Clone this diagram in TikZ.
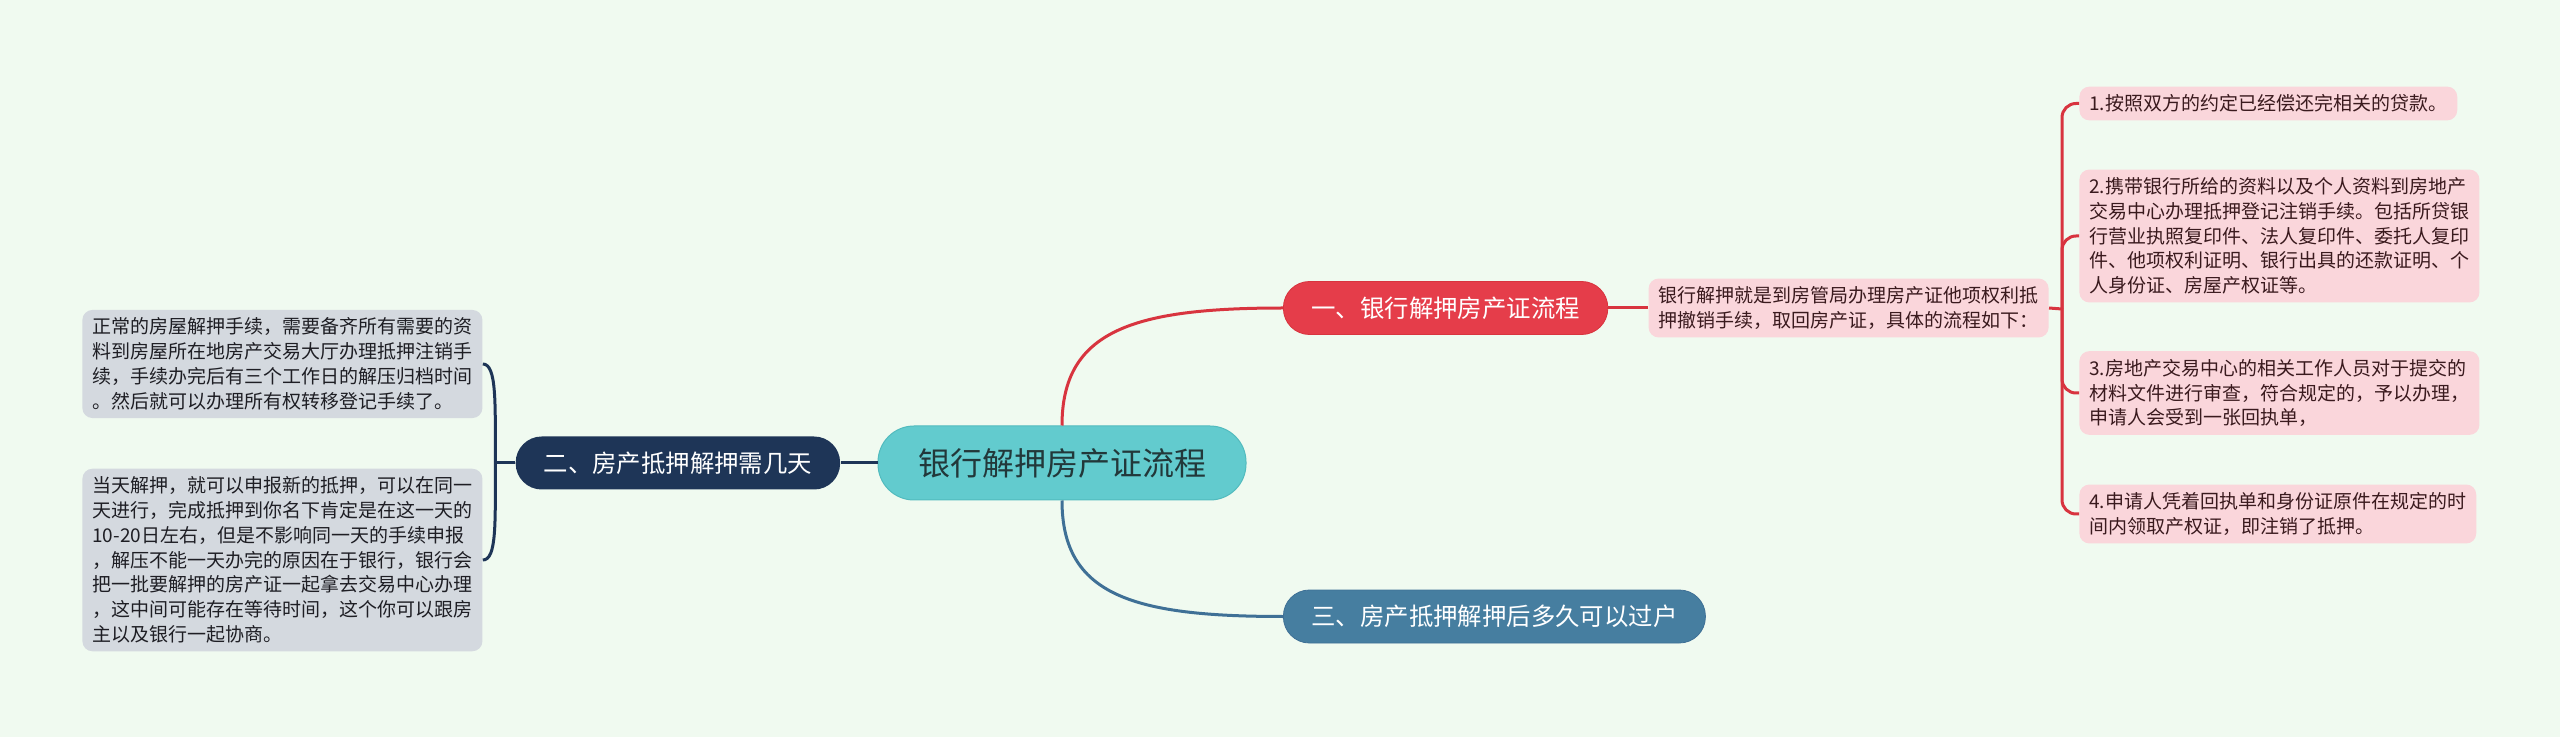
\documentclass[tikz,border=0pt]{standalone}
\usepackage{fontspec}
\newfontfamily\cjk{Noto Sans CJK SC}
\usepackage{tikz}
\usetikzlibrary{positioning}
\definecolor{bgmint}{HTML}{F0FAF0}
\definecolor{rootteal}{HTML}{62CBCE}
\definecolor{rootedge}{HTML}{52BBBE}
\definecolor{roottext}{HTML}{22383A}
\definecolor{topicred}{HTML}{E53D4A}
\definecolor{topicnavy}{HTML}{1E3557}
\definecolor{topicblue}{HTML}{467EA0}
\definecolor{leafpink}{HTML}{FAD6DB}
\definecolor{leaftext}{HTML}{3A1A1E}
\definecolor{leafgrey}{HTML}{D4D9DF}
\definecolor{greytext}{HTML}{1E1E24}
\definecolor{linkred}{HTML}{D8343F}
\definecolor{linkblue}{HTML}{3F7096}

\begin{document}
\begin{tikzpicture}[x=0.5pt, y=-0.5pt,
    root/.style={fill=rootteal, draw=rootedge, line width=0.5pt, rounded corners=18pt,
        minimum width=184pt, minimum height=37pt, text=roottext,
        font=\cjk\fontsize{16}{19}\selectfont},
    topic/.style={rounded corners=13pt, minimum height=26.5pt, inner xsep=14pt,
        text=white, font=\cjk\fontsize{12.2}{15}\selectfont},
    leaf/.style={rounded corners=5pt, align=left, inner xsep=5pt, inner ysep=4pt,
        font=\cjk\fontsize{9.5}{12.4}\selectfont},
    redleaf/.style={leaf, fill=leafpink, text=leaftext},
    greyleaf/.style={leaf, fill=leafgrey, text=greytext},
    redlink/.style={draw=linkred, line width=1.5pt},
    navylink/.style={draw=topicnavy, line width=1.5pt},
    bluelink/.style={draw=linkblue, line width=1.5pt}
]
\useasboundingbox[fill=bgmint] (0,0) rectangle (2560,737);

% centre and main topics
\node[root] (root) at (1062,463) {银行解押房产证流程};
\node[topic, fill=topicred, draw=linkred, anchor=west] (t1) at (1283,308) {一、银行解押房产证流程};
\node[topic, fill=topicnavy, left=18.5pt of root] (t2) {二、房产抵押解押需几天};
\node[topic, fill=topicblue, draw=linkblue, anchor=west] (t3) at (1283,616.5) {三、房产抵押解押后多久可以过户};

% branch one
\node[redleaf, right=20pt of t1] (desc) {银行解押就是到房管局办理房产证他项权利抵\\押撤销手续，取回房产证，具体的流程如下：};
\node[redleaf, anchor=west] (s1) at (2079,103.5) {1.按照双方的约定已经偿还完相关的贷款。};
\node[redleaf, anchor=west] (s2) at (2079,236) {2.携带银行所给的资料以及个人资料到房地产\\交易中心办理抵押登记注销手续。包括所贷银\\行营业执照复印件、法人复印件、委托人复印\\件、他项权利证明、银行出具的还款证明、个\\人身份证、房屋产权证等。};
\node[redleaf, anchor=west] (s3) at (2079,393) {3.房地产交易中心的相关工作人员对于提交的\\材料文件进行审查，符合规定的，予以办理，\\申请人会受到一张回执单，};
\node[redleaf, anchor=west] (s4) at (2079,514) {4.申请人凭着回执单和身份证原件在规定的时\\间内领取产权证，即注销了抵押。};

% branch two
\node[greyleaf, anchor=west] (l1) at (82,364) {正常的房屋解押手续，需要备齐所有需要的资\\料到房屋所在地房产交易大厅办理抵押注销手\\续，手续办完后有三个工作日的解压归档时间\\。然后就可以办理所有权转移登记手续了。};
\node[greyleaf, anchor=west] (l2) at (82,560) {当天解押，就可以申报新的抵押，可以在同一\\天进行，完成抵押到你名下肯定是在这一天的\\10-20日左右，但是不影响同一天的手续申报\\，解压不能一天办完的原因在于银行，银行会\\把一批要解押的房产证一起拿去交易中心办理\\，这中间可能存在等待时间，这个你可以跟房\\主以及银行一起协商。};

% connectors
\draw[redlink] (root.north) .. controls +(0,-95) and +(-150,0) .. (t1.west);
\draw[bluelink] (root.south) .. controls +(0,95) and +(-150,0) .. (t3.west);
\draw[navylink] (root.west) -- (t2.east);
\draw[redlink] (t1.east) -- (desc.west);

\coordinate (rj) at (2062,309);
\draw[redlink] (desc.east) -- (rj);
\foreach \s in {s1,s2,s3,s4}
    \draw[redlink, rounded corners=7pt] (rj) |- (\s.west);

\coordinate[left=10pt of t2.west] (lj);
\draw[navylink] (t2.west) -- (lj);
\draw[navylink] (lj) .. controls +(0,-60) and +(14,0) .. (l1.east);
\draw[navylink] (lj) .. controls +(0,60) and +(14,0) .. (l2.east);

\end{tikzpicture}
\end{document}
